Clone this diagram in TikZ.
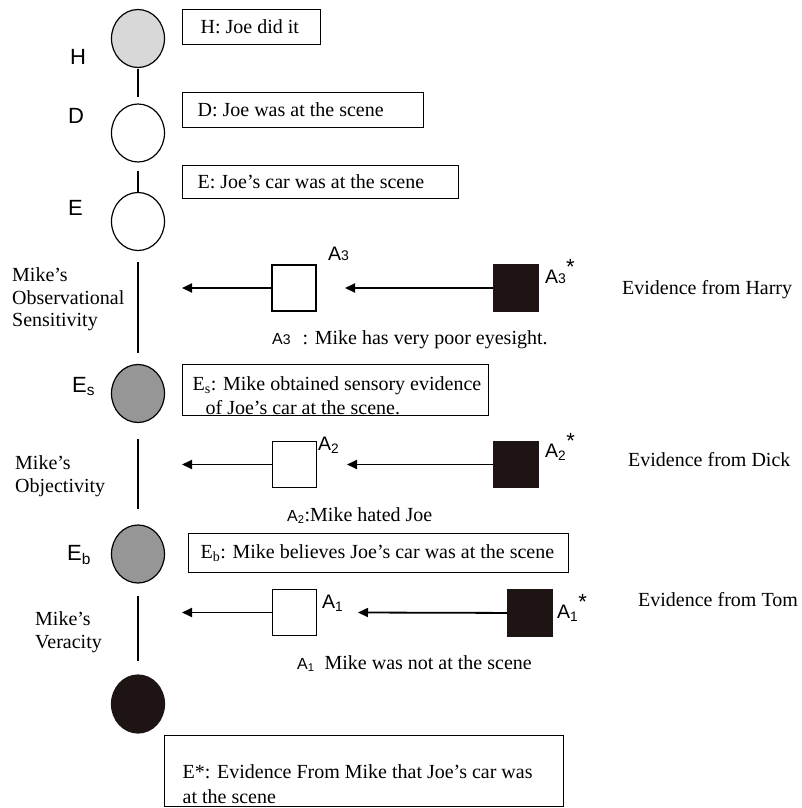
\documentclass[tikz,border=0pt]{standalone}
\usepackage{fontspec}
\setmainfont{Liberation Serif}
\setsansfont{Liberation Sans}
\usetikzlibrary{arrows.meta,shapes.geometric}
\definecolor{lgray}{RGB}{216,216,216}
\definecolor{mgray}{RGB}{150,150,150}
\definecolor{darkfill}{RGB}{30,20,20}
\newcommand\bxt[3]{\makebox[#1][l]{\hspace{#2}#3}}
\newcommand\smallnum[1]{{\fontsize{14}{14}\selectfont #1}}
\newcommand\bigstar{\raisebox{9pt}{\fontsize{22}{22}\selectfont *}}
\begin{document}
\begin{tikzpicture}[x=1pt,y=-1pt,
  tf/.style={font=\fontsize{20}{22.5}\selectfont},
  sf/.style={font=\fontsize{22}{26}\selectfont\sffamily},
  af/.style={font=\fontsize{19.5}{21}\selectfont\sffamily},
  circ/.style={ellipse, draw, line width=1.2pt, minimum width=53pt, minimum height=58pt, inner sep=0pt},
  wsq/.style={draw, line width=1.2pt, fill=white, minimum width=44pt, minimum height=46pt, inner sep=0pt},
  bsq/.style={draw=darkfill, line width=1.2pt, fill=darkfill, minimum width=45pt, minimum height=46pt, inner sep=0pt},
  tbox/.style={draw, line width=1.3pt, inner sep=0pt, anchor=north west, tf},
  link/.style={line width=2pt},
  arr/.style={line width=1.8pt, -{Triangle[length=10pt,width=9pt]}},
  lbl/.style={inner sep=0pt, anchor=base west}
]
\useasboundingbox (0,0) rectangle (802,808);

% chain of circles
\node[circ, fill=lgray] (H) at (138,38.5) {};
\node[circ, fill=white] (D) at (138,133) {};
\node[circ, fill=white] (E) at (138,221.5) {};
\node[circ, fill=mgray] (Es) at (138,393.5) {};
\node[circ, fill=mgray] (Eb) at (138,554) {};
\node[circ, fill=darkfill, draw=darkfill] (Est) at (138,704) {};

\draw[link, shorten <=1pt, shorten >=6pt] (H) -- (D);
\draw[link, shorten <=8pt] (D) -- (E);
\draw[link, shorten <=11pt, shorten >=11pt] (E) -- (Es);
\draw[link, shorten <=16pt, shorten >=15pt] (Es) -- (Eb);
\draw[link, shorten <=12pt, shorten >=13pt] (Eb) -- (Est);

% letter labels
\node[sf, lbl] (lH) at (70,65) {H};
\node[sf, lbl] (lD) at (68,123) {D};
\node[sf, lbl] (lE) at (68,215) {E};
\node[sf, lbl] (lEs) at (72,392) {E\textsubscript{s}};
\node[sf, lbl] (lEb) at (67,560) {E\textsubscript{b}};

% text boxes
\node[tbox, minimum height=35pt] (hbox) at (182,9) {\bxt{138pt}{18pt}{H: Joe did it}};
\node[tbox, minimum height=35pt] (dbox) at (182,92) {\bxt{241pt}{15pt}{D: Joe was at the scene}};
\node[tbox, minimum height=33pt] (ebox) at (182,165) {\bxt{276pt}{15pt}{E: Joe's car was at the scene}};
\node[tbox, minimum height=51pt] (esbox) at (182,364) {\parbox[c][49pt][b]{306pt}{\fontsize{20}{24}\selectfont\hspace*{10pt}E\textsubscript{s}: Mike obtained sensory evidence\\\hspace*{23pt}of Joe's car at the scene.}};
\node[tbox, minimum height=39pt] (ebbox) at (188,533) {\bxt{380pt}{12pt}{E\textsubscript{b}: Mike believes Joe's car was at the scene}};
\node[tbox, minimum height=71pt] (estbox) at (164,735) {\parbox[c][64pt][b]{399pt}{\fontsize{20}{25}\selectfont\hspace*{18pt}E*: Evidence From Mike that Joe's car was\\\hspace*{18pt}at the scene}};

% side labels
\node[tf, align=left, anchor=west, inner sep=0pt] (obs) at (12,299.5) {Mike's\\Observational\\Sensitivity};
\node[tf, align=left, anchor=west, inner sep=0pt] (objv) at (15,476) {Mike's\\Objectivity};
\node[tf, align=left, anchor=west, inner sep=0pt] (ver) at (35,632) {Mike's\\Veracity};

% row A3
\node[wsq] (W3) at (294,288) {};
\node[bsq] (B3) at (516,288) {};
\coordinate (t3L) at (182,288);
\coordinate (t3R) at (345,288);
\draw[arr] (W3) -- (t3L);
\draw[arr] (B3) -- (t3R);
\node[af, lbl] (a3t) at (328,260) {A\smallnum{3}};
\node[af, lbl] (a3s) at (545,283) {A\smallnum{3}\bigstar};
\node[tf, lbl] (a3d) at (272,344) {{\sffamily\fontsize{16}{18}\selectfont A\smallnum{3}}\hspace{12pt}: Mike has very poor eyesight.};
\node[tf, anchor=west, inner sep=0pt] (ev3) at (622,290) {Evidence from Harry};

% row A2
\node[wsq] (W2) at (294.5,464.5) {};
\node[bsq] (B2) at (516,464.5) {};
\coordinate (t2L) at (182,464.5);
\coordinate (t2R) at (347,464.5);
\draw[arr] (W2) -- (t2L);
\draw[arr] (B2) -- (t2R);
\node[af, lbl] (a2t) at (318,450) {A\textsubscript{2}};
\node[af, lbl] (a2s) at (545,457) {A\textsubscript{2}\bigstar};
\node[tf, lbl] (a2d) at (287,521) {{\sffamily\fontsize{16}{18}\selectfont A\textsubscript{2}}:Mike hated Joe};
\node[tf, anchor=west, inner sep=0pt] (ev2) at (628,460) {Evidence from Dick};

% row A1
\node[wsq] (W1) at (294.5,612.5) {};
\node[bsq] (B1) at (530,613) {};
\coordinate (t1L) at (182,612.5);
\coordinate (t1R) at (358,612.5);
\draw[arr] (W1) -- (t1L);
\draw[arr] (B1) -- (t1R);
\node[af, lbl] (a1t) at (322,608) {A\textsubscript{1}};
\node[af, lbl] (a1s) at (557,618) {A\textsubscript{1}\bigstar};
\node[tf, lbl] (a1d) at (297,669) {{\sffamily\fontsize{16}{18}\selectfont A\textsubscript{1}}\hspace{10pt}Mike was not at the scene};
\node[tf, anchor=west, inner sep=0pt] (ev1) at (638,600) {Evidence from Tom};
\end{tikzpicture}
\end{document}
